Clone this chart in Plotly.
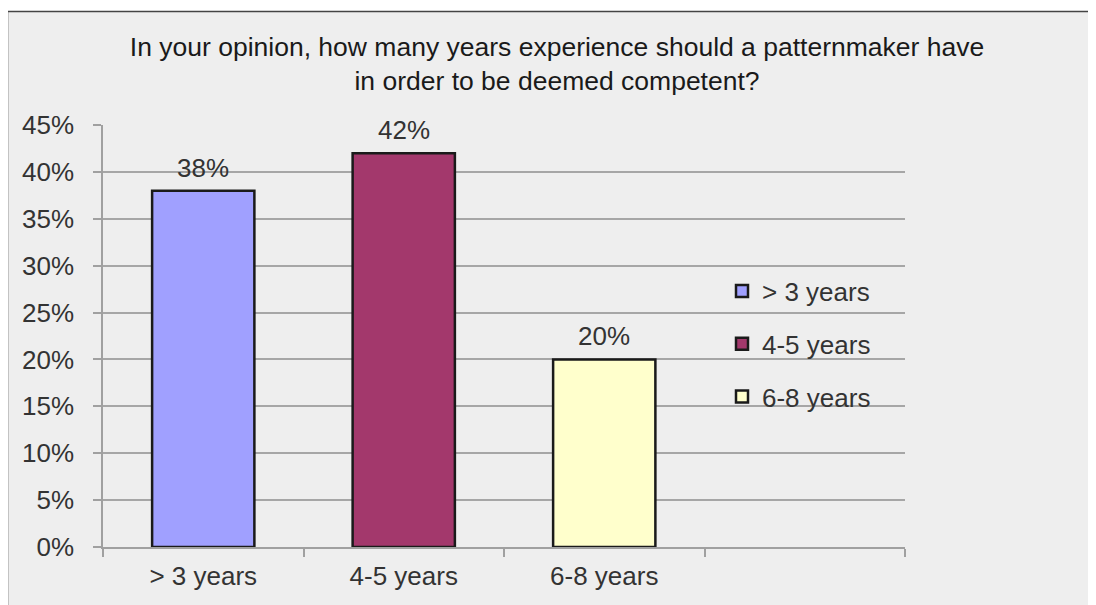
import plotly.graph_objects as go

categories = ["> 3 years", "4-5 years", "6-8 years"]
values = [0.38, 0.42, 0.20]
labels = ["38%", "42%", "20%"]
colors = ["#a0a0ff", "#a3386c", "#ffffcc"]
title_text = "In your opinion, how many years experience should a patternmaker have<br>in order to be deemed competent?"

W, H = 1096, 605
OFF = 8  # page body margin offset
L, R, T, B = 103 - OFF, 905 - OFF, 125 - OFF, 547 - OFF  # plot area pixel bounds (figure coords)

def px(x):
    return (x - OFF - L) / (R - L)

def py(y):
    return (B - (y - OFF)) / (B - T)

FONT = "Liberation Sans, Arial, sans-serif"
TXT = "#333333"
FS = 26

fig = go.Figure()
for i, (cat, v, lab, c) in enumerate(zip(categories, values, labels, colors)):
    fig.add_trace(go.Bar(
        x=[cat], y=[v], name=cat,
        marker=dict(color=c, line=dict(color="#1a1a1a", width=2.5)),
        width=0.51, cliponaxis=False, legendgroup=f"g{i}",
    ))
    fig.add_annotation(x=cat, y=v, text=lab, showarrow=False, yanchor="bottom",
                       yshift=6, font=dict(size=FS, color=TXT, family=FONT))
# empty fourth category slot
fig.add_trace(go.Bar(x=[" "], y=[None], showlegend=False, hoverinfo="skip"))

fig.update_layout(
    width=W, height=H,
    margin=dict(l=L, r=W - R, t=T, b=H - B, pad=0),
    paper_bgcolor="white", plot_bgcolor="#eeeeee",
    barmode="overlay",
    font=dict(family=FONT, size=FS, color=TXT),
    title=dict(text=title_text, x=px(557), xanchor="center", xref="paper",
               y=1 - (56 - OFF) / H, yanchor="middle",
               font=dict(size=26.5, color="#1a1a1a", family=FONT)),
    legend=dict(x=px(722), xanchor="left", y=py(344), yanchor="middle",
                bgcolor="rgba(0,0,0,0)", font=dict(size=FS, color=TXT),
                traceorder="grouped", tracegroupgap=16, itemwidth=30),
    showlegend=True,
    shapes=[dict(type="rect", xref="paper", yref="paper",
                 x0=px(7.5), x1=px(1120), y0=py(630), y1=py(11.5),
                 line=dict(color="#444444", width=1.5), fillcolor="#eeeeee",
                 layer="below")],
)
fig.update_xaxes(
    categoryorder="array", categoryarray=categories + [" "],
    range=[-0.5, 3.5], tickson="boundaries", ticks="outside", ticklen=8,
    tickcolor="#a0a0a0", tickwidth=1.5, ticklabelstandoff=5,
    showline=True, linecolor="#a0a0a0", linewidth=1.5, showgrid=False,
    tickfont=dict(size=FS, color=TXT), zeroline=False,
)
fig.update_yaxes(
    range=[0, 0.45], dtick=0.05, tickformat=".0%", ticks="outside", ticklen=8,
    tickcolor="#a0a0a0", tickwidth=1.5, ticklabelstandoff=14,
    showline=True, linecolor="#a0a0a0", linewidth=1.5,
    showgrid=True, gridcolor="#a6a6a6", gridwidth=1.5, zeroline=False,
    tickfont=dict(size=FS, color=TXT),
)
fig.write_html("out.html")
